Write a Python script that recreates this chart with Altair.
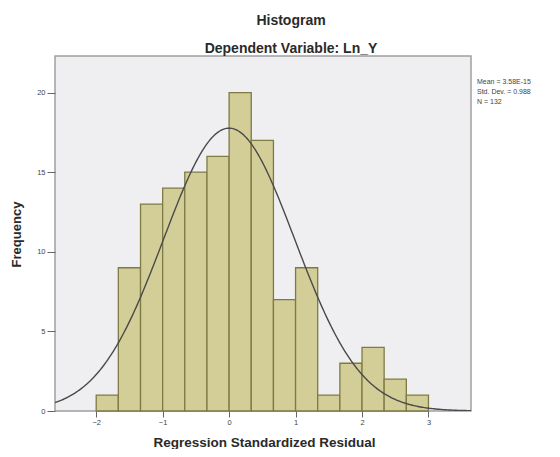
import altair as alt
import pandas as pd

# Histogram bins (bin width 1/3) and frequencies
bin_start = [-2.0, -1.667, -1.333, -1.0, -0.667, -0.333, 0.0, 0.333, 0.667, 1.0, 1.333, 1.667, 2.0, 2.333, 2.667]
bin_end = [-1.667, -1.333, -1.0, -0.667, -0.333, 0.0, 0.333, 0.667, 1.0, 1.333, 1.667, 2.0, 2.333, 2.667, 3.0]
counts = [1, 9, 13, 14, 15, 16, 20, 17, 7, 9, 1, 3, 4, 2, 1]

# Summary statistics shown in the side note
mean_val = 3.58e-15
sd_val = 0.988
n_val = 132
bin_width = 1 / 3

x_ticks = [-2, -1, 0, 1, 2, 3]
y_ticks = [0, 5, 10, 15, 20]
stats_lines = ["Mean = 3.58E-15", "Std. Dev. = 0.988", "N = 132"]

x_domain = [-2.62, 3.64]
y_domain = [0, 22.3]

bars_df = pd.DataFrame({"start": bin_start, "end": bin_end, "count": counts})

xs = alt.Scale(domain=x_domain, nice=False, zero=False)
ys = alt.Scale(domain=y_domain, nice=False)

x_axis = alt.Axis(values=x_ticks, format="d", title="Regression Standardized Residual", grid=False,
                  domain=False, tickSize=6, tickColor="#666666", labelFontSize=7.5,
                  labelColor="#444444", labelPadding=1,
                  titleFontSize=13.5, titleFont="Liberation Sans", titleFontWeight="bold",
                  titleColor="#2A2A2A", titleX=209, titleY=31, titleBaseline="middle")
y_axis = alt.Axis(values=y_ticks, format="d", title="Frequency", grid=False, domain=False,
                  tickSize=8, tickColor="#666666", labelFontSize=7.5, labelColor="#444444",
                  labelPadding=2, titleFontSize=13, titleFont="Liberation Sans",
                  titleFontWeight="bold", titleColor="#2A2A2A", titleX=-39, titleY=178,
                  titleAngle=270, titleAlign="center", titleBaseline="middle")

bars = alt.Chart(bars_df).mark_bar(
    fill="#D3CE98", stroke="#7E7A44", strokeWidth=1.3
).encode(
    x=alt.X("start:Q", scale=xs, axis=x_axis),
    x2="end:Q",
    y=alt.Y("count:Q", scale=ys, axis=y_axis),
    y2=alt.datum(0),
)

curve = alt.Chart(alt.sequence(x_domain[0], x_domain[1] + 0.01, 0.02, as_="x")).transform_calculate(
    dens=f"{n_val} * {bin_width} * exp(-0.5 * pow((datum.x - {mean_val}) / {sd_val}, 2)) / ({sd_val} * sqrt(2 * PI))"
).mark_line(color="#4A4A4A", strokeWidth=1.4, clip=True).encode(
    x=alt.X("x:Q", scale=xs),
    y=alt.Y("dens:Q", scale=ys),
)

stats_df = pd.DataFrame({"line": ["\n".join(stats_lines)]})
stats = alt.Chart(stats_df).mark_text(
    align="left", baseline="middle", fontSize=7, color="#444444", font="Liberation Sans",
    lineBreak="\n", lineHeight=10
).encode(
    x=alt.value(422),
    y=alt.value(26),
    text="line:N",
)

chart = alt.layer(bars, curve, stats).properties(
    width=416,
    height=355,
    autosize="none",
    padding={"left": 47, "top": 48, "right": 81, "bottom": 38},
    title=alt.TitleParams(
        "Histogram",
        subtitle="Dependent Variable: Ln_Y",
        fontSize=14, subtitleFontSize=14,
        font="Liberation Sans", subtitleFont="Liberation Sans",
        fontWeight="bold", subtitleFontWeight="bold",
        color="#2A2A2A", subtitleColor="#2A2A2A",
        anchor="middle", dx=28, offset=0, subtitlePadding=14,
    ),
).configure_view(
    fill="#EFEFF1", stroke="#A0A0A0", strokeWidth=1.5
)

chart.save("out.html", embed_options={"renderer": "svg", "actions": False})
